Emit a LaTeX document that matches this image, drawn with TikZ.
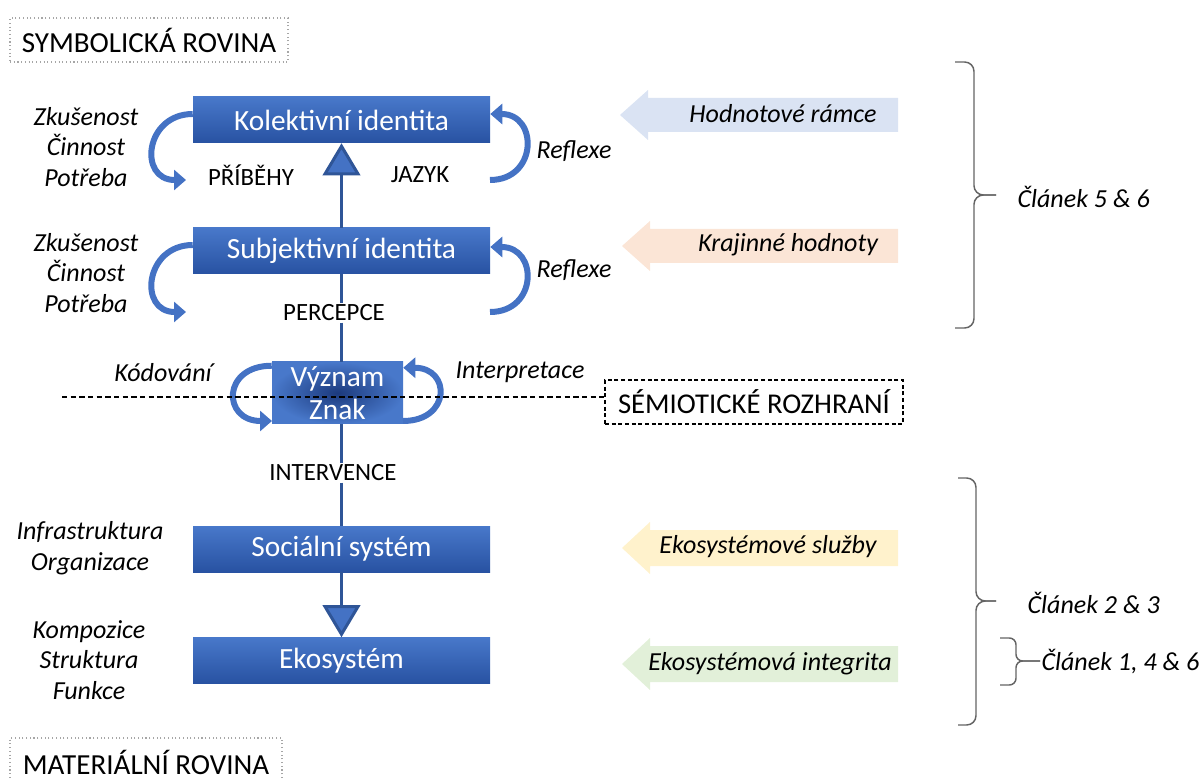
\documentclass[tikz,border=0pt]{standalone}
\usepackage{fontspec}
\setmainfont{Carlito}
\usepackage{tikz}
\usetikzlibrary{calc}
\usetikzlibrary{arrows.meta}
\usetikzlibrary{positioning}
\definecolor{blktop}{RGB}{72,120,202}
\definecolor{blkbot}{RGB}{40,82,162}
\definecolor{sgnmid}{RGB}{28,58,125}
\definecolor{crvblue}{RGB}{68,114,196}
\definecolor{lineblue}{RGB}{47,85,151}
\definecolor{hodnbg}{RGB}{218,227,243}
\definecolor{krajbg}{RGB}{251,229,214}
\definecolor{sluzbg}{RGB}{255,242,204}
\definecolor{integbg}{RGB}{226,240,217}
\definecolor{bracegray}{RGB}{100,100,100}
\tikzstyle{blk}=[rectangle,minimum width=222.75pt,minimum height=34.5pt,inner sep=0,top color=blktop,bottom color=blkbot,text=white,font=\fontsize{22}{25}\selectfont]
\tikzstyle{sgn}=[rectangle,minimum width=98.25pt,minimum height=46.5pt,inner sep=0,inner color=sgnmid,outer color=blktop,text=white,align=center,font=\fontsize{22}{24.75}\selectfont]
\tikzstyle{caps}=[inner sep=1pt,font=\fontsize{18.6}{21}\selectfont]
\tikzstyle{itl}=[inner sep=1pt,align=center,font=\fontsize{19.5}{22.9}\selectfont\itshape]
\tikzstyle{pln}=[draw=gray!70,dotted,thick,minimum width=208.5pt,minimum height=33pt,font=\fontsize{21.8}{24}\selectfont]
\tikzstyle{crv}=[draw=crvblue,line width=4.5pt,-{Triangle[width=15pt,length=9pt]}]
\tikzstyle{conn}=[draw=lineblue,line width=2.25pt]
\tikzstyle{tri}=[-{Triangle[width=28pt,length=24pt,fill=crvblue]}]
\tikzstyle{brc}=[draw=bracegray,line width=1.1pt,rounded corners=7pt]

\begin{document}
\begin{tikzpicture}[x=0.75pt,y=-0.75pt]
\useasboundingbox (0,0) rectangle (1200,780);
\fill[hodnbg] (898,98) -- (648,98) -- (648,90) -- (620,115) -- (648,140) -- (648,132) -- (898,132) -- cycle;
\fill[krajbg] (898,229) -- (650,229) -- (650,221) -- (622,246) -- (650,271) -- (650,263) -- (898,263) -- cycle;
\fill[sluzbg] (898,530) -- (650,530) -- (650,522) -- (622,548) -- (650,574) -- (650,566) -- (898,566) -- cycle;
\fill[integbg] (898,646) -- (650,646) -- (650,638) -- (622,664) -- (650,690) -- (650,682) -- (898,682) -- cycle;

\node[pln] (symb) at (149,40) {SYMBOLICKÁ ROVINA};
\node[pln,minimum width=204pt,minimum height=36pt] (mat) at (146,762) {MATERIÁLNÍ ROVINA};
\node[draw,dash pattern=on 3pt off 2pt,line width=0.9pt,minimum width=223.5pt,minimum height=33pt,font=\fontsize{21.5}{24}\selectfont] (sem) at (754,402) {SÉMIOTICKÉ ROZHRANÍ};

\node[blk] (kol) at (341.5,120) {Kolektivní identita};
\node[blk] (subj) at (341.5,251) {Subjektivní identita};
\node[sgn] (vyz) at (337.5,393) {Význam\\Znak};
\node[blk] (soc) at (341.5,549) {Sociální systém};
\node[blk] (eko) at (341.5,660.5) {Ekosystém};

\node[caps] (prib) at (251,175) {PŘÍBĚHY};
\node[caps] (jaz) at (420,175) {JAZYK};
\node[caps] (perc) at (334,313) {PERCEPCE};
\node[caps] (interv) at (333,473) {INTERVENCE};

\node[itl] (zk1) at (86,147) {Zkušenost\\Činnost\\Potřeba};
\node[itl] (zk2) at (86,273) {Zkušenost\\Činnost\\Potřeba};
\node[itl] (infra) at (90,548) {Infrastruktura\\Organizace};
\node[itl] (komp) at (89,660) {Kompozice\\Struktura\\Funkce};
\node[itl] (refl1) at (574,151) {Reflexe};
\node[itl] (refl2) at (574,270) {Reflexe};
\node[itl] (kod) at (163,373) {Kódování};
\node[itl] (interp) at (520,372) {Interpretace};

\node[itl] (hodn) at (783,114) {Hodnotové rámce};
\node[itl] (kraj) at (788,245) {Krajinné hodnoty};
\node[itl] (sluz) at (768,547) {Ekosystémové služby};
\node[itl] (integ) at (770,664) {Ekosystémová integrita};

\coordinate (kolL) at (186,180);
\coordinate (kolR) at (490,180);
\coordinate (subjL) at (186,312);
\coordinate (subjR) at (490,312);
\coordinate (vyzL) at (272,421);
\coordinate (vyzR) at (403,421);
\draw[crv] ($(kol.west)+(0,-6)$) .. controls +(-48,0) and +(-48,0) .. (kolL);
\draw[crv] (kolR) .. controls +(48,0) and +(48,0) .. ($(kol.east)+(0,-6)$);
\draw[crv] ($(subj.west)+(0,-6)$) .. controls +(-48,0) and +(-48,0) .. (subjL);
\draw[crv] (subjR) .. controls +(48,0) and +(48,0) .. ($(subj.east)+(0,-4)$);
\draw[crv] ($(vyz.north west)+(0,4)$) .. controls +(-50,0) and +(-50,0) .. (vyzL);
\draw[crv] (vyzR) .. controls +(48,0) and +(48,0) .. ($(vyz.north east)+(0,6)$);

\draw[conn,tri] (subj.north) -- (kol.south);
\draw[conn] (subj.south) -- (subj.south |- perc.north);
\draw[conn] (subj.south |- perc.south) -- (subj.south |- vyz.north);
\draw[conn] (subj.south |- vyz.south) -- (subj.south |- interv.north);
\draw[conn] (subj.south |- interv.south) -- (soc.north);
\draw[conn,tri] (soc.south) -- (eko.north);

\coordinate (dl) at (62,397);
\draw[dash pattern=on 4pt off 2.5pt,line width=0.9pt] (dl) -- (dl -| sem.west);

\coordinate (b1t) at (955,62);
\coordinate (b1b) at (955,328);
\coordinate (b1c) at (974,195);
\coordinate (b1m) at (996,195);
\coordinate (b2t) at (958,478);
\coordinate (b2b) at (958,725);
\coordinate (b2c) at (976,601);
\coordinate (b2m) at (996,601);
\coordinate (b3t) at (1000,638);
\coordinate (b3b) at (1000,685);
\coordinate (b3c) at (1016,661);
\coordinate (b3m) at (1040,661);
\draw[brc] (b1t) -| (b1c) -- (b1m);
\draw[brc] (b1b) -| (b1c) -- (b1m);
\draw[brc] (b2t) -| (b2c) -- (b2m);
\draw[brc] (b2b) -| (b2c) -- (b2m);
\draw[brc,rounded corners=5pt] (b3t) -| (b3c) -- (b3m);
\draw[brc,rounded corners=5pt] (b3b) -| (b3c) -- (b3m);
\node[itl,anchor=west] (art56) at (1016,197) {Článek 5 \& 6};
\node[itl,anchor=west] (art23) at (1026,603) {Článek 2 \& 3};
\node[itl,anchor=west] (art146) at (1040,662) {Článek 1, 4 \& 6};
\end{tikzpicture}
\end{document}
